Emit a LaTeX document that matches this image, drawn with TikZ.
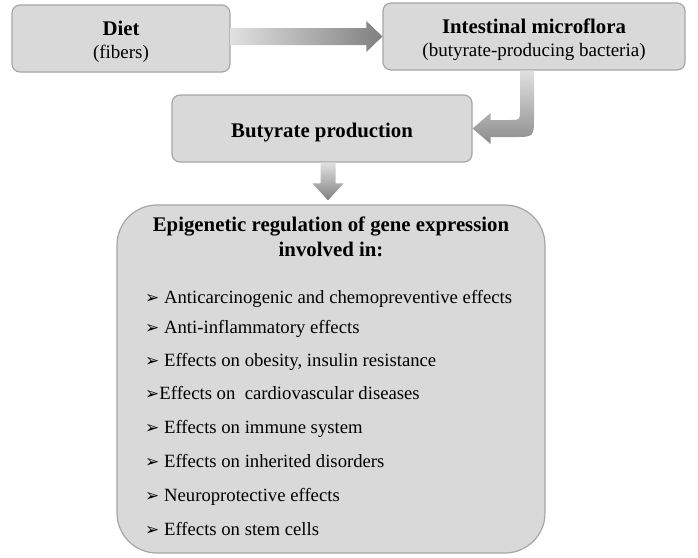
\documentclass[tikz,border=0pt]{standalone}
\usepackage{fontspec}
\setmainfont{Liberation Serif}
\newfontfamily\symfont{DejaVu Sans}
\usetikzlibrary{calc}

\newcommand{\hd}[1]{{\fontsize{20.8}{24}\selectfont\bfseries\rule{0pt}{22pt}#1}}

\begin{document}
\begin{tikzpicture}[x=1pt, y=-1pt,
    every node/.style={font=\fontsize{19}{23}\selectfont},
    box/.style={draw=black!35, line width=1.2pt, fill=black!15, rounded corners=8pt, align=center, inner sep=0pt},
    item/.style={anchor=base west, inner sep=0pt, font=\fontsize{18.7}{23}\selectfont}]
    \useasboundingbox (0,0) rectangle (698,557);

    % Boxes of the pathway
    \node[box, minimum width=218pt, minimum height=67pt] (diet) at (121,38.5) {\hd{Diet}\\(fibers)};
    \node[box, minimum width=302pt, minimum height=67pt] (flora) at (534,36.5) {\hd{Intestinal microflora}\\(butyrate-producing bacteria)};
    \node[box, minimum width=300pt, minimum height=67pt] (butyr) at (322,128.5) {\hd{Butyrate production}};
    \node[box, rounded corners=40pt, minimum width=428pt, minimum height=348pt] (epi) at (331,379) {};

    % Text of the big box
    \node[align=center, font=\fontsize{20.8}{25}\selectfont\bfseries] (title) at (331,237) {Epigenetic regulation of gene expression\\involved in:};
    \foreach \y/\txt [count=\i] in {303/{\ Anticarcinogenic and chemopreventive effects}, 333/{\ Anti-inflammatory effects},
        366/{\ Effects on obesity, insulin resistance}, 399/{Effects on\ \ cardiovascular diseases},
        433/{\ Effects on immune system}, 467/{\ Effects on inherited disorders},
        501/{\ Neuroprotective effects}, 535/{\ Effects on stem cells}}
        \node[item] (item\i) at (145,\y) {{\symfont\fontsize{17}{17}\selectfont ➢}\txt};

    % Block arrows
    \coordinate (a1) at (diet.east |- flora.west);
    \shade[left color=black!12, right color=black!50]
        ($(a1)+(0,-8.5)$) -- ($(flora.west)+(-16,-8.5)$) -- ($(flora.west)+(-16,-15.5)$) -- (flora.west)
        -- ($(flora.west)+(-16,15.5)$) -- ($(flora.west)+(-16,8.5)$) -- ($(a1)+(0,8.5)$) -- cycle;

    \coordinate (bx) at ($(flora.south)+(-7,0)$);
    \coordinate (by) at (bx |- butyr.east);
    \shade[top color=black!12, bottom color=black!45]
        ($(bx)+(-7,0)$) -- ($(by)+(-7,-18)$) .. controls ($(by)+(-7,-8.5)$) .. ($(by)+(-17,-8.5)$)
        -- ($(butyr.east)+(18,-8.5)$) -- ($(butyr.east)+(18,-15.5)$) -- (butyr.east)
        -- ($(butyr.east)+(18,15.5)$) -- ($(butyr.east)+(18,8.5)$) -- ($(by)+(-13,8.5)$)
        .. controls ($(by)+(7,8.5)$) .. ($(by)+(7,-11.5)$) -- ($(bx)+(7,0)$) -- cycle;

    \coordinate (dn) at ($(butyr.south)+(6,0)$);
    \coordinate (dt) at ($(dn |- epi.north)+(0,-4)$);
    \shade[top color=black!12, bottom color=black!50]
        ($(dn)+(-7.5,0)$) -- ($(dt)+(-7.5,-17)$) -- ($(dt)+(-15.5,-17)$) -- (dt)
        -- ($(dt)+(15.5,-17)$) -- ($(dt)+(7.5,-17)$) -- ($(dn)+(7.5,0)$) -- cycle;
\end{tikzpicture}
\end{document}
